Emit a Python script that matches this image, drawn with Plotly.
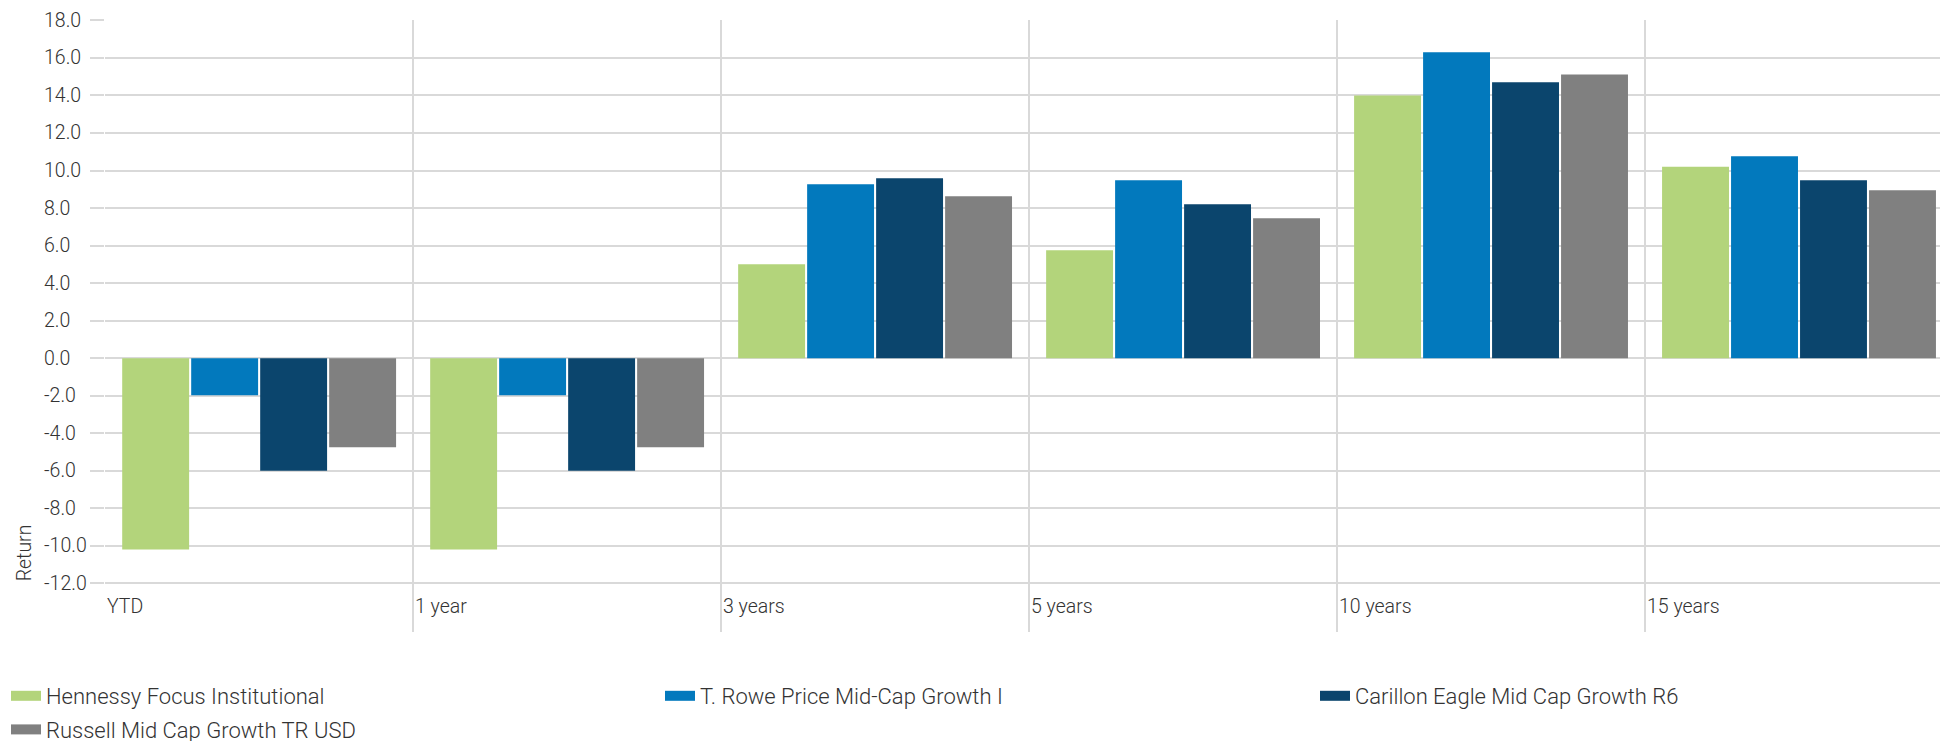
import plotly.graph_objects as go

# Trailing-period returns (%) for each fund / index
periods = ["YTD", "1 year", "3 years", "5 years", "10 years", "15 years"]
hennessy = [-10.2, -10.2, 5.0, 5.75, 14.0, 10.2]
trowe = [-1.98, -1.98, 9.27, 9.48, 16.3, 10.76]
carillon = [-6.0, -6.0, 9.59, 8.2, 14.7, 9.48]
russell = [-4.75, -4.75, 8.63, 7.46, 15.12, 8.95]

series_names = [
    "Hennessy Focus Institutional",
    "T. Rowe Price Mid-Cap Growth I",
    "Carillon Eagle Mid Cap Growth R6",
    "Russell Mid Cap Growth TR USD",
]
series_colors = ["#b3d47b", "#0279bd", "#0b456d", "#808080"]
y_ticks = list(range(-12, 19, 2))

W, H = 1940, 741
M_L, M_R, M_T, M_B = 105, 0, 20, 109
FONT = "Roboto"
TEXT = "#333333"
GRID = "#d9d9d9"
AXIS_FONT = dict(family=FONT, size=19.5, color=TEXT, weight=300)
LEG_FONT = dict(family=FONT, size=22, color=TEXT, weight=300)

plot_w = W - M_L - M_R
x_max = plot_w / 308.0
y_min, y_max = -14.59, 18.02

fig = go.Figure()
centers = [i + 0.5 for i in range(len(periods))]
for name, vals, col in zip(series_names, [hennessy, trowe, carillon, russell], series_colors):
    fig.add_trace(go.Bar(
        x=centers, y=vals, name=name, showlegend=False,
        marker=dict(color=col, line=dict(width=0)),
        hoverinfo="x+y+name",
    ))

# legend keys: wide flat swatches laid out in three columns
legend_slot = ["legend", "legend2", "legend3", "legend"]
for k, (name, col) in enumerate(zip(series_names, series_colors)):
    fig.add_trace(go.Scatter(
        x=[None], y=[None], mode="lines", name=name,
        line=dict(color=col, width=10), legend=legend_slot[k],
        legendgroup=f"g{k}", hoverinfo="skip",
    ))

annotations = []
# y tick labels, left aligned
for v in y_ticks:
    annotations.append(dict(
        x=(42 - M_L) / plot_w, xref="paper", y=v, yref="y",
        text=f"{v:.1f}", showarrow=False, xanchor="left", yanchor="middle",
        font=AXIS_FONT,
    ))
# category labels at the left edge of each band
for i, p in enumerate(periods):
    annotations.append(dict(
        x=i, xref="x", y=-13.25, yref="y",
        text=p, showarrow=False, xanchor="left", yanchor="middle",
        font=AXIS_FONT,
    ))
# axis title
annotations.append(dict(
    x=(24 - M_L) / plot_w, xref="paper", y=-10.4, yref="y",
    text="Return", textangle=-90, showarrow=False,
    xanchor="center", yanchor="middle",
    font=AXIS_FONT,
))


def legend_box(x_px):
    return dict(
        xref="container", yref="container",
        x=x_px / W, xanchor="left",
        y=1 - 675 / H, yanchor="top",
        orientation="v", itemwidth=30, tracegroupgap=2,
        font=LEG_FONT, bgcolor="rgba(0,0,0,0)", borderwidth=0,
    )


fig.update_layout(
    width=W, height=H,
    margin=dict(l=M_L, r=M_R, t=M_T, b=M_B, autoexpand=False),
    paper_bgcolor="white", plot_bgcolor="white",
    barmode="group", bargap=0.104, bargroupgap=0.03,
    showlegend=True,
    legend=legend_box(6),
    legend2=legend_box(660),
    legend3=legend_box(1315),
    annotations=annotations,
    font=dict(family=FONT, color=TEXT),
)
fig.update_xaxes(
    range=[-0.0005, x_max], tickvals=list(range(len(periods))),
    showticklabels=False, showgrid=True, gridcolor=GRID, gridwidth=2,
    zeroline=False, showline=False, ticks="",
)
fig.update_yaxes(
    range=[y_min, y_max], tickvals=y_ticks, showticklabels=False,
    showgrid=True, gridcolor=GRID, gridwidth=2, zeroline=False,
    ticks="outside", ticklen=14, tickcolor=GRID, tickwidth=2, showline=False,
)

fig.write_html("out.html")
